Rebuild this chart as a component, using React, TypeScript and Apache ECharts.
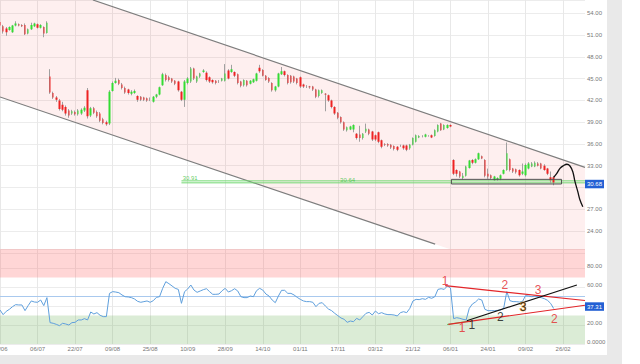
import React, { useEffect, useRef } from 'react';
import * as echarts from 'echarts';

// x axis: one slot per trading session, a date label every 12 slots
const slotCount = 188;
const dateLabels = ['06/06', '06/07', '22/07', '09/08', '25/08', '10/09', '28/09', '14/10', '01/11', '17/11', '03/12', '21/12', '06/01', '24/01', '09/02', '26/02'];

// [open, close, low, high]
const candles = [
  [52.8, 52.3, 52.1, 53.0], [52.2, 51.5, 51.2, 52.4], [51.9, 51.4, 50.9, 52.1], [51.7, 52.1, 51.6, 52.2], [51.4, 52.3, 51.3, 52.4],
  [52.3, 52.6, 52.2, 52.9], [52.5, 52.3, 52.2, 52.6], [52.4, 52.2, 52.1, 52.5], [52.4, 51.1, 51.0, 52.6], [51.2, 51.8, 51.1, 51.9],
  [51.8, 52.4, 51.7, 52.7], [52.2, 52.6, 52.1, 52.7], [52.5, 52.0, 51.9, 52.6], [52.0, 52.4, 51.9, 52.5], [52.1, 51.2, 50.7, 52.2],
  [51.3, 52.7, 51.2, 52.9], [45.3, 43.1, 42.9, 46.3], [43.0, 42.4, 42.2, 43.2], [42.4, 42.1, 41.8, 42.6], [42.0, 40.8, 40.6, 42.2],
  [41.4, 40.7, 40.5, 41.8], [41.1, 40.2, 39.9, 41.3], [40.6, 39.9, 39.6, 40.8], [40.2, 40.5, 40.0, 40.7], [40.4, 40.1, 39.9, 40.6],
  [40.1, 40.6, 39.9, 40.8], [40.2, 40.7, 40.0, 40.9], [40.6, 41.0, 40.4, 41.2], [43.4, 39.8, 39.5, 43.7], [39.9, 40.9, 39.7, 41.1],
  [40.9, 40.3, 40.1, 41.1], [40.4, 39.8, 39.6, 40.6], [40.2, 39.2, 39.0, 40.4], [39.4, 38.9, 38.7, 39.6], [39.0, 38.7, 38.5, 39.2],
  [38.8, 43.2, 38.6, 43.4], [43.3, 44.4, 43.2, 44.6], [44.4, 44.7, 44.3, 45.1], [44.8, 44.3, 44.1, 45.0], [44.2, 43.7, 43.5, 44.4],
  [43.7, 43.1, 42.9, 43.9], [43.5, 43.0, 42.8, 43.6], [42.9, 43.2, 42.7, 43.4], [43.0, 43.3, 42.9, 43.5], [42.6, 42.1, 41.8, 42.7],
  [42.5, 42.1, 41.9, 42.6], [42.4, 42.1, 41.9, 42.5], [42.3, 42.0, 41.8, 42.4], [42.2, 42.2, 41.9, 42.4], [41.8, 42.5, 41.7, 42.6],
  [42.5, 42.8, 42.3, 42.9], [42.8, 43.8, 42.7, 43.9], [44.1, 45.6, 44.0, 45.8], [45.5, 44.8, 44.6, 45.7], [45.2, 44.8, 44.6, 45.4],
  [45.0, 44.6, 44.4, 45.1], [44.7, 44.3, 44.1, 44.8], [44.6, 43.4, 43.2, 44.7], [43.2, 42.1, 41.9, 43.3], [42.1, 44.6, 41.1, 44.8],
  [44.4, 45.0, 44.2, 45.2], [44.6, 46.4, 44.4, 46.6], [46.4, 45.0, 44.8, 46.5], [44.6, 45.3, 44.4, 45.4], [45.3, 45.7, 45.1, 45.8],
  [45.9, 46.1, 45.8, 46.3], [45.8, 44.8, 44.6, 46.0], [45.2, 44.6, 44.4, 45.3], [44.8, 44.5, 44.3, 44.9], [44.7, 44.4, 44.2, 44.8],
  [44.6, 44.6, 44.4, 44.8], [44.7, 45.0, 44.6, 45.1], [44.7, 45.7, 44.6, 47.0], [46.1, 45.0, 44.9, 46.3], [45.9, 46.3, 45.8, 46.9],
  [45.9, 45.4, 45.2, 46.0], [45.6, 44.4, 44.2, 45.7], [44.6, 44.0, 43.8, 44.7], [44.1, 44.8, 43.9, 44.9], [44.7, 44.1, 43.9, 44.8],
  [44.3, 44.7, 44.2, 44.8], [44.5, 44.9, 44.4, 45.0], [44.7, 45.7, 44.6, 45.8], [46.5, 46.0, 45.8, 46.9], [46.2, 45.4, 45.3, 46.3],
  [45.4, 44.8, 44.7, 45.5], [45.1, 44.6, 44.4, 45.2], [44.4, 43.4, 43.2, 44.5], [43.4, 43.9, 43.2, 44.0], [43.9, 45.7, 43.8, 45.8],
  [45.6, 46.0, 45.5, 46.6], [46.0, 45.5, 45.3, 46.1], [45.5, 44.4, 44.2, 45.6], [45.4, 44.5, 44.3, 45.5], [45.3, 44.6, 44.4, 45.4],
  [45.0, 44.4, 44.2, 45.1], [45.2, 43.9, 43.7, 45.3], [44.2, 43.9, 43.7, 44.3], [43.9, 43.9, 43.7, 44.1], [43.9, 43.8, 43.6, 44.0],
  [43.9, 43.5, 43.3, 44.0], [43.5, 42.5, 42.3, 43.6], [42.6, 43.4, 42.4, 43.5], [43.0, 43.4, 42.9, 43.5], [42.9, 42.8, 40.5, 43.0],
  [42.7, 42.0, 41.8, 42.8], [42.0, 41.1, 40.9, 42.1], [41.1, 40.2, 40.0, 41.2], [40.3, 39.6, 39.4, 40.4], [39.7, 39.0, 38.8, 39.8],
  [39.0, 38.0, 37.8, 39.1], [37.9, 38.3, 37.7, 38.4], [38.0, 38.4, 37.9, 38.5], [38.0, 38.6, 37.6, 38.7], [37.4, 36.8, 36.6, 37.5],
  [37.3, 36.8, 36.3, 38.5], [36.8, 37.4, 36.6, 37.5], [37.7, 38.1, 37.5, 38.8], [38.0, 37.4, 37.2, 38.1], [37.7, 36.6, 36.4, 37.8],
  [37.2, 36.6, 36.4, 37.3], [37.6, 36.3, 36.1, 37.7], [36.5, 35.6, 35.4, 36.6], [36.0, 35.9, 35.7, 36.1], [36.0, 35.8, 35.6, 36.1],
  [35.9, 35.5, 35.3, 36.0], [35.7, 35.3, 35.1, 35.8], [35.6, 35.2, 35.0, 35.7], [35.8, 35.8, 35.6, 35.9], [35.8, 35.4, 35.2, 35.9],
  [35.8, 35.2, 35.0, 35.9], [35.4, 35.9, 35.2, 36.0], [35.9, 36.8, 35.8, 36.9], [36.3, 37.2, 36.2, 37.3], [36.9, 37.1, 36.8, 37.2],
  [37.1, 37.1, 36.9, 37.2], [37.0, 37.3, 36.9, 37.4], [37.1, 37.1, 37.0, 37.2], [37.2, 36.9, 36.8, 37.3], [37.1, 37.9, 37.0, 38.0],
  [37.7, 38.6, 37.6, 38.7], [38.8, 37.9, 37.8, 38.9], [38.0, 38.6, 37.9, 38.7], [38.2, 38.6, 38.1, 38.7], [38.6, 38.4, 38.3, 38.7],
  [33.8, 31.9, 31.7, 33.9], [32.4, 31.9, 31.5, 32.5], [32.2, 31.5, 31.3, 32.3], [31.3, 31.6, 31.1, 32.0], [31.6, 32.9, 31.5, 33.0],
  [32.7, 33.7, 32.6, 33.8], [33.8, 33.4, 33.2, 33.9], [33.4, 33.9, 33.3, 34.0], [33.9, 34.7, 33.8, 34.8], [34.3, 34.0, 33.9, 34.4],
  [33.8, 31.6, 31.4, 33.9], [31.9, 31.5, 31.2, 32.6], [31.7, 31.3, 31.1, 31.8], [31.0, 31.5, 30.9, 31.6], [31.1, 31.3, 30.9, 31.4],
  [31.2, 31.7, 31.0, 31.8], [31.9, 32.4, 31.8, 32.5], [32.4, 34.7, 32.3, 36.2], [33.9, 32.4, 32.2, 34.0], [32.6, 32.2, 32.0, 32.7],
  [32.5, 32.1, 31.9, 32.6], [32.4, 31.7, 31.5, 32.5], [31.9, 32.2, 31.7, 33.3], [31.7, 33.1, 31.5, 33.3], [32.6, 33.3, 32.5, 33.5],
  [32.9, 33.3, 32.8, 33.5], [32.9, 33.4, 32.8, 33.6], [33.3, 33.0, 32.9, 33.5], [33.3, 32.6, 32.5, 33.4], [33.0, 32.4, 32.3, 33.2],
  [32.6, 31.9, 31.7, 32.7], [31.4, 31.0, 30.6, 32.2], [31.4, 30.68, 30.3, 31.6],
];

const rsi = [
  35.8, 30.9, 34.4, 36.5, 39.3, 41.4, 41.1, 41.1, 35.1, 40.4, 45.3, 44.2, 43.9, 46.3, 40.4, 48.8,
  22.5, 21.8, 20.7, 19.3, 21.8, 21.1, 20.0, 22.5, 22.8, 25.3, 25.3, 26.7, 25.3, 33.7, 31.6, 33.0,
  30.2, 28.8, 28.8, 53.3, 55.1, 54.7, 54.0, 51.6, 49.8, 49.5, 48.8, 47.4, 44.9, 43.9, 44.6, 45.3,
  43.9, 45.6, 49.1, 49.8, 58.6, 65.6, 63.5, 61.1, 58.6, 57.5, 42.8, 55.1, 57.9, 62.1, 56.8, 54.4,
  55.8, 57.2, 58.2, 55.1, 52.3, 52.3, 52.6, 56.1, 58.6, 54.7, 56.1, 58.2, 55.8, 49.8, 48.8, 48.8,
  50.5, 49.8, 56.1, 58.6, 56.8, 52.6, 50.5, 46.3, 43.5, 50.5, 56.5, 56.5, 53.3, 53.3, 51.6, 49.1,
  47.0, 45.3, 44.6, 44.6, 43.9, 39.3, 42.8, 43.5, 40.0, 36.8, 35.1, 32.3, 29.8, 27.4, 26.0, 22.8,
  24.2, 23.5, 27.0, 25.3, 28.8, 32.3, 33.3, 30.5, 34.7, 31.9, 33.0, 31.6, 30.9, 30.9, 30.5, 29.5,
  33.0, 34.0, 33.0, 37.5, 45.3, 47.0, 46.7, 47.7, 47.0, 49.1, 48.1, 49.8, 57.5, 58.2, 57.5, 61.1,
  59.0, 26.7, 27.7, 27.0, 26.0, 25.3, 37.5, 42.1, 44.2, 47.4, 46.3, 36.5, 35.1, 35.1, 35.1, 35.4,
  35.8, 37.5, 55.1, 45.6, 44.6, 44.6, 44.2, 44.6, 50.9, 50.5, 49.8, 50.5, 49.8, 48.8, 47.7, 46.0,
  42.8, 37.31,
];

// drawn studies, in [slot, value]
const upperChannel = [[29.7, 55.83], [187, 32.77]];
const lowerChannel = [[0, 42.47], [139.1, 22.2]];
const channelFill = [[0, 55.83], [29.7, 55.83], [187, 32.77], [187, 21.5], [143.9, 21.5], [0, 42.47]];
const supportLevels = [30.91, 30.64];
const supportStart = 58;
const supportLabelSlots = [58.4, 108.7];
const zoneBox = [[144.3, 31.12], [179.5, 31.12], [179.5, 30.48], [144.3, 30.48], [144.3, 31.12]];
const projection = [[177, 31.4], [178, 31.95], [179, 32.64], [180.1, 33.0], [181.2, 33.2], [182.2, 32.96], [183.1, 32.17], [183.8, 30.8], [184.7, 29.42], [185.4, 28.27], [186.3, 27.35]];
const lastPrice = 30.68;
const lastRsi = 37.31;
const hiddenPriceTicks = [21, 30];
const hiddenRsiTicks = [40, 100];

const rsiUpperLine = [[142.3, 61.4], [187, 45.8]];
const rsiLowerLine = [[143.3, 20.7], [187, 40.8]];
const rsiBlackLine = [[149.2, 24.5], [184.4, 62.1]];
const rsiGreenLine = [[142.9, 20.5], [150.3, 24.2]];
const rsiMarks = [
  { x: 142.3, y: 66.3, t: '1', c: '#e3262a', o: '' },
  { x: 161.4, y: 62.1, t: '2', c: '#e3262a', o: '' },
  { x: 172.0, y: 56.8, t: '3', c: '#e3262a', o: '' },
  { x: 147.7, y: 16.8, t: '1', c: '#e3262a', o: '' },
  { x: 150.8, y: 19.5, t: '1', c: '#111111', o: '' },
  { x: 159.9, y: 27.9, t: '2', c: '#111111', o: '' },
  { x: 167.2, y: 38.6, t: '3', c: '#111111', o: '#f0a030' },
  { x: 177.2, y: 25.8, t: '2', c: '#e3262a', o: '' },
];

const slots = Array.from({ length: slotCount }, (_, i) => String(i));
const FONT = 'Liberation Sans, Arial, sans-serif';

function valueBox(v: number, bg: string, dy: number) {
  return {
    yAxis: v,
    lineStyle: { color: 'rgba(0,0,0,0)', width: 0 },
    label: {
      show: true, position: 'end', distance: 0, offset: [0, dy], formatter: v.toFixed(2), color: '#fff',
      backgroundColor: bg, padding: [1.5, 2, 1, 2], fontSize: 6, fontFamily: FONT,
    },
  };
}

function lineSeries(data: number[][], color: string, width: number, xi: number, yi: number, z = 4, smooth: number | boolean = false) {
  return {
    type: 'line', xAxisIndex: xi, yAxisIndex: yi, data, symbol: 'none', silent: true, smooth, z,
    lineStyle: { color, width }, emphasis: { disabled: true },
  };
}

export default function App() {
  const ref = useRef<HTMLDivElement>(null);
  useEffect(() => {
    if (!ref.current) return;
    const chart = echarts.init(ref.current, null, { renderer: 'svg' });
    const grid = '#e8e8e8';
    const option: any = {
      animation: false,
      backgroundColor: '#ffffff',
      textStyle: { fontFamily: FONT },
      grid: [
        { left: 0, right: 55, top: 0, height: 252.8, outerBoundsMode: 'none', containLabel: false },
        { left: 0, right: 55, top: 249, height: 95, outerBoundsMode: 'none', containLabel: false },
      ],
      xAxis: [
        { type: 'category', gridIndex: 0, data: slots, boundaryGap: false, axisLine: { show: false }, axisTick: { show: false }, axisLabel: { show: false }, splitLine: { show: true, interval: 11, lineStyle: { color: grid } } },
        {
          type: 'category', gridIndex: 1, data: slots, boundaryGap: false, axisLine: { show: false }, axisTick: { show: false },
          axisLabel: { show: true, interval: 11, fontSize: 6, color: '#777', margin: 2, formatter: (v: string) => dateLabels[Number(v) / 12] ?? '' },
          splitLine: { show: true, interval: 11, lineStyle: { color: grid } },
        },
        { type: 'value', gridIndex: 0, min: 0, max: slotCount - 1, show: false },
        { type: 'value', gridIndex: 1, min: 0, max: slotCount - 1, show: false },
      ],
      yAxis: [
        {
          type: 'value', gridIndex: 0, position: 'right', min: 21, max: 55.83, interval: 3,
          axisLine: { show: false }, axisTick: { show: false }, splitLine: { lineStyle: { color: '#ececec' } },
          axisLabel: {
            fontSize: 6, color: '#777', margin: 2,
            formatter: (v: number) => (Math.abs(v % 3) < 1e-6 && !hiddenPriceTicks.includes(v) ? v.toFixed(2) : ''),
          },
        },
        {
          type: 'value', gridIndex: 1, position: 'right', min: 0, max: 100, interval: 20,
          axisLine: { show: false }, axisTick: { show: false }, splitLine: { lineStyle: { color: '#ececec' } },
          axisLabel: {
            fontSize: 6, color: '#777', margin: 2, verticalAlign: 'bottom', lineHeight: 5,
            formatter: (v: number) => (v === 0 ? '0.0000' : hiddenRsiTicks.includes(v) ? '' : v.toFixed(2)),
          },
        },
      ],
      graphic: [
        { type: 'rect', shape: { x: 607, y: 0, width: 15, height: 364 }, style: { fill: '#e9e9e9' }, silent: true },
        { type: 'rect', shape: { x: 0, y: 355, width: 622, height: 9 }, style: { fill: '#e9e9e9' }, silent: true },
      ],
      series: [
        {
          type: 'custom', xAxisIndex: 2, yAxisIndex: 0, data: [[0, 40]], clip: true, silent: true, z: 1,
          renderItem: (_p: any, api: any) => ({
            type: 'polygon',
            shape: { points: channelFill.map((p) => api.coord(p)) },
            style: { fill: 'rgba(240,80,80,0.09)' },
          }),
        },
        lineSeries(upperChannel, '#7d7d7d', 1.2, 2, 0, 3),
        lineSeries(lowerChannel, '#7d7d7d', 1.2, 2, 0, 3),
        ...supportLevels.map((lv) => lineSeries([[supportStart, lv], [slotCount - 1, lv]], '#72d872', 1, 2, 0, 3)),
        {
          type: 'candlestick', xAxisIndex: 0, yAxisIndex: 0, data: candles, barWidth: 1, silent: true, z: 4,
          itemStyle: { color: '#a0a0a0', color0: '#a0a0a0', borderColor: '#a0a0a0', borderColor0: '#a0a0a0', borderWidth: 1 },
        },
        {
          type: 'candlestick', xAxisIndex: 0, yAxisIndex: 0, data: candles, barWidth: 2, silent: true, z: 5,
          itemStyle: { color: '#33dd33', color0: '#ee2222', borderColor: '#33dd33', borderColor0: '#ee2222', borderWidth: 0 },
          markLine: { silent: true, symbol: ['none', 'none'], animation: false, data: [valueBox(lastPrice, '#2360d4', 1.5)] },
        },
        lineSeries(zoneBox, '#505050', 1, 2, 0, 6),
        lineSeries(projection, '#111111', 1.3, 2, 0, 6, 0.4),
        {
          type: 'scatter', xAxisIndex: 2, yAxisIndex: 0, symbolSize: 0, silent: true, z: 7,
          data: supportLevels.map((lv, i) => ({
            value: [supportLabelSlots[i], lv],
            label: { show: true, position: 'inside', align: 'left', verticalAlign: 'bottom', formatter: lv.toFixed(2), color: '#3cbf3c', fontSize: 6 },
          })),
        },
        // RSI panel
        {
          type: 'line', xAxisIndex: 3, yAxisIndex: 1, data: [[0, 50], [slotCount - 1, 50]], symbol: 'none', silent: true, z: 1,
          lineStyle: { color: '#a9c9ee', width: 1 },
          markArea: {
            silent: true,
            data: [
              [{ yAxis: 70, itemStyle: { color: 'rgba(255,90,90,0.25)' } }, { yAxis: 100 }],
              [{ yAxis: 0, itemStyle: { color: 'rgba(90,170,70,0.22)' } }, { yAxis: 30 }],
            ],
          },
        },
        {
          type: 'line', xAxisIndex: 1, yAxisIndex: 1, data: rsi, symbol: 'none', silent: true, z: 3,
          lineStyle: { color: '#5f9fdc', width: 1 },
          markLine: { silent: true, symbol: ['none', 'none'], data: [valueBox(lastRsi, '#2360d4', -2)] },
        },
        lineSeries(rsiGreenLine, '#5fcf5f', 1.2, 3, 1, 4),
        lineSeries(rsiUpperLine, '#e3262a', 1.2, 3, 1, 4),
        lineSeries(rsiLowerLine, '#e3262a', 1.2, 3, 1, 4),
        lineSeries(rsiBlackLine, '#111111', 1.1, 3, 1, 5),
        {
          type: 'scatter', xAxisIndex: 3, yAxisIndex: 1, symbolSize: 0, silent: true, z: 7,
          data: rsiMarks.map((m) => ({
            value: [m.x, m.y],
            label: {
              show: true, position: 'inside', formatter: m.t, color: m.c, fontSize: 12, fontFamily: FONT,
              textBorderColor: m.o || 'transparent', textBorderWidth: m.o ? 1 : 0,
            },
          })),
        },
      ],
    };
    chart.setOption(option);
    return () => chart.dispose();
  }, []);
  return <div ref={ref} style={{ position: 'absolute', left: 0, top: 0, width: 640, height: 364 }} />;
}
